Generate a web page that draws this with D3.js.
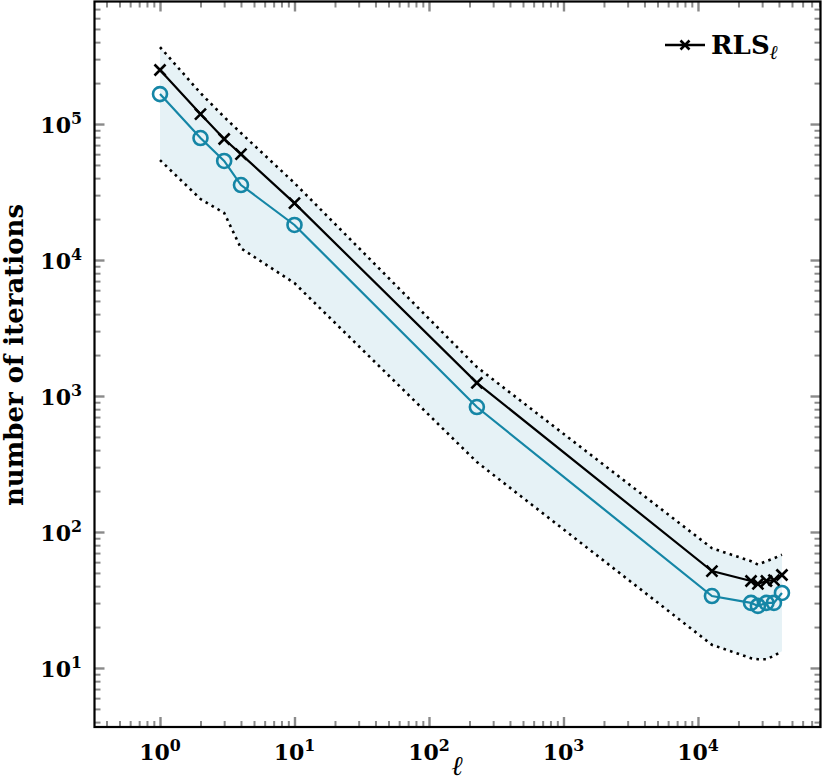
<!DOCTYPE html>
<html><head><meta charset="utf-8">
<script src="https://cdn.jsdelivr.net/npm/d3@7"></script>
<style>body{margin:0;background:#fff}</style>
</head><body><svg id="c" width="831" height="784"></svg>
<script>
// ---- data ----
const ell   = [1, 2, 3, 4, 10, 227, 12700, 24800, 27900, 32300, 36700, 42100];
const rls   = [249500, 118400, 77600, 60100, 26200, 1250, 51.6, 43.6, 41.5, 43.6, 44.3, 48.3];
const other = [166000, 78900, 53500, 35600, 18100, 830, 33.8, 30.1, 28.6, 30.1, 30.1, 35.6];
const upper = [368000, 169000, 112600, 85900, 36800, 1633, 76, 61, 57.6, 61, 64, 68];
const lower = [54300, 28100, 22200, 12200, 6760, 327, 14.8, 11.8, 11.6, 11.6, 12.3, 13.3];
const xTickExp = [0, 1, 2, 3, 4];
const yTickExp = [1, 2, 3, 4, 5];
const legendLabel = "RLS";
const xLabel = "ℓ";
const yLabel = "number of iterations";

const svg = d3.select("#c");
const L = 94.5, R = 820.5, T = 1.5, B = 727;
const x = d3.scaleLog().domain([Math.pow(10, -0.487), Math.pow(10, 4.911)]).range([L, R]);
const y = d3.scaleLog().domain([Math.pow(10, 0.566), Math.pow(10, 5.901)]).range([B, T]);

const blue = "#1586a6", shade = "#e6f2f6", tickCol = "#8a8a8a";
const font = "'DejaVu Serif', serif";

const rows = ell.map((e, i) => ({e, r: rls[i], o: other[i], u: upper[i], l: lower[i]}));

// shading
svg.append("path").datum(rows)
  .attr("d", d3.area().x(d => x(d.e)).y0(d => y(d.l)).y1(d => y(d.u)))
  .attr("fill", shade);

// dotted bounds
["u", "l"].forEach(k => {
  svg.append("path").datum(rows)
    .attr("d", d3.line().x(d => x(d.e)).y(d => y(d[k])))
    .attr("fill", "none").attr("stroke", "#000").attr("stroke-width", 2.6)
    .attr("stroke-dasharray", "2.6,4.3");
});

// blue series
svg.append("path").datum(rows)
  .attr("d", d3.line().x(d => x(d.e)).y(d => y(d.o)))
  .attr("fill", "none").attr("stroke", blue).attr("stroke-width", 2.2);
svg.append("g").selectAll("circle").data(rows).join("circle")
  .attr("cx", d => x(d.e)).attr("cy", d => y(d.o)).attr("r", 7)
  .attr("fill", "none").attr("stroke", blue).attr("stroke-width", 2.6);

// black series
svg.append("path").datum(rows)
  .attr("d", d3.line().x(d => x(d.e)).y(d => y(d.r)))
  .attr("fill", "none").attr("stroke", "#000").attr("stroke-width", 2.2);
const crossPath = (cx, cy, s) => `M${cx-s},${cy-s}L${cx+s},${cy+s}M${cx-s},${cy+s}L${cx+s},${cy-s}`;
svg.append("g").selectAll("path").data(rows).join("path")
  .attr("d", d => crossPath(x(d.e), y(d.r), 5.5))
  .attr("stroke", "#000").attr("stroke-width", 2.6).attr("fill", "none");

// ticks
function minors(scale) {
  const [a, b] = scale.domain(); const out = [];
  for (let k = Math.floor(Math.log10(a)); k <= Math.ceil(Math.log10(b)); k++)
    for (let m = 2; m <= 9; m++) { const v = m * Math.pow(10, k); if (v >= a && v <= b) out.push(v); }
  return out;
}
const xMaj = xTickExp.map(e => Math.pow(10, e)), yMaj = yTickExp.map(e => Math.pow(10, e));
function addAxis(gen, tr, vals, size, w) {
  const g = svg.append("g").attr("transform", tr)
    .call(gen.tickValues(vals).tickSizeInner(size).tickSizeOuter(0).tickFormat(""));
  g.select(".domain").remove();
  g.selectAll(".tick line").attr("stroke", tickCol).attr("stroke-width", w);
}
addAxis(d3.axisBottom(x), `translate(0,${B})`, minors(x), -6, 2);
addAxis(d3.axisBottom(x), `translate(0,${B})`, xMaj, -10, 2.4);
addAxis(d3.axisTop(x), `translate(0,${T})`, minors(x), -6, 2);
addAxis(d3.axisTop(x), `translate(0,${T})`, xMaj, -10, 2.4);
addAxis(d3.axisLeft(y), `translate(${L},0)`, minors(y), -6, 2);
addAxis(d3.axisLeft(y), `translate(${L},0)`, yMaj, -10, 2.4);
addAxis(d3.axisRight(y), `translate(${R},0)`, minors(y), -6, 2);
addAxis(d3.axisRight(y), `translate(${R},0)`, yMaj, -10, 2.4);

// frame
svg.append("rect").attr("x", L).attr("y", T).attr("width", R - L).attr("height", B - T)
  .attr("fill", "none").attr("stroke", "#000").attr("stroke-width", 2.2);

// tick labels
function powLabel(sel, e) {
  sel.append("tspan").text("10");
  sel.append("tspan").attr("font-size", "0.72em").attr("dy", "-0.55em").text(String(e));
}
xTickExp.forEach(e => {
  const t = svg.append("text").attr("x", x(Math.pow(10, e))).attr("y", 760)
    .attr("text-anchor", "middle").attr("font-family", font).attr("font-weight", "bold")
    .attr("font-size", 22);
  powLabel(t, e);
});
yTickExp.forEach(e => {
  const t = svg.append("text").attr("x", 82).attr("y", y(Math.pow(10, e)) + 9)
    .attr("text-anchor", "end").attr("font-family", font).attr("font-weight", "bold")
    .attr("font-size", 22);
  powLabel(t, e);
});

// axis labels
svg.append("text").attr("x", (L + R) / 2).attr("y", 775).attr("text-anchor", "middle")
  .attr("font-family", font).attr("font-weight", "bold").attr("font-style", "italic")
  .attr("font-size", 27).text(xLabel);
svg.append("text").attr("transform", `translate(23,355) rotate(-90)`)
  .attr("text-anchor", "middle").attr("font-family", font).attr("font-weight", "bold")
  .attr("font-size", 26).text(yLabel);

// legend
const ly = 45;
svg.append("line").attr("x1", 665).attr("x2", 705).attr("y1", ly).attr("y2", ly)
  .attr("stroke", "#000").attr("stroke-width", 2.4);
svg.append("path").attr("d", crossPath(685, ly, 4.5)).attr("stroke", "#000").attr("stroke-width", 2.6);
const lt = svg.append("text").attr("x", 711).attr("y", ly + 9).attr("font-family", font)
  .attr("font-weight", "bold").attr("font-size", 26);
lt.append("tspan").text(legendLabel);
lt.append("tspan").attr("font-size", "0.75em").attr("font-style", "italic").attr("dy", "0.25em").text(xLabel);
</script></body></html>
